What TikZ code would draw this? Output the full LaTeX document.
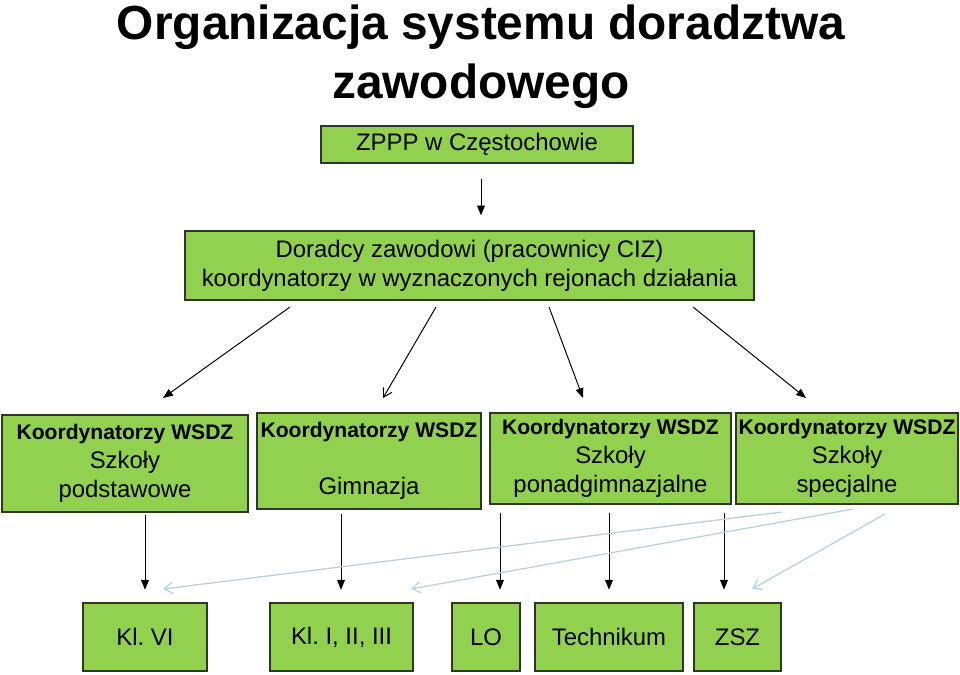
\documentclass[tikz,border=0pt]{standalone}
\usepackage{fontspec}
\setmainfont{Liberation Sans}
\usepackage{xcolor}
\usetikzlibrary{arrows.meta,shadows}
\definecolor{boxgreen}{RGB}{146,208,80}
\definecolor{boxline}{RGB}{45,55,35}
\definecolor{paleblue}{RGB}{180,210,222}
\frenchspacing
\tikzset{
	box/.style 2 args={
			draw=boxline, fill=boxgreen, line width=0.8pt, inner sep=0pt,
			minimum width=#1*0.025cm, minimum height=#2*0.025cm,
			align=center, font=\fontsize{17}{20.5}\selectfont,
			drop shadow={shadow xshift=1pt, shadow yshift=-1pt, opacity=0.4}
		}
}
\newcommand{\wsdz}{\textbf{\fontsize{15}{20.5}\selectfont Koordynatorzy WSDZ}}
\tikzstyle{arr} = [line width=0.7pt, -{Triangle[length=7pt,width=5.5pt]}]
\tikzstyle{arropen} = [line width=0.7pt, -{Straight Barb[length=6pt,width=7pt]}]
\tikzstyle{pale} = [draw=paleblue, line width=0.9pt, -{Straight Barb[length=6pt,width=8pt]}]

\begin{document}
\begin{tikzpicture}[x=0.025cm, y=-0.025cm]
\useasboundingbox (0,0) rectangle (960,675);

% Title
\node[align=center, font=\bfseries\fontsize{34}{42}\selectfont] (title) at (481,57)
    {Organizacja systemu doradztwa\\zawodowego};

% Nodes
\node[box={312}{37}] (zppp) at (477,144.5) {ZPPP w Częstochowie};
\node[box={569}{69}] (doradcy) at (469.5,265.5)
    {Doradcy zawodowi (pracownicy CIZ)\\koordynatorzy w wyznaczonych rejonach działania};

\node[box={246}{97}] (podst) at (125,463.5) {\wsdz\\Szkoły\\podstawowe};
\node[box={224}{96}] (gimn) at (369,461) {\wsdz\\\mbox{}\\Gimnazja};
\node[box={241}{91}] (ponad) at (610.5,458.5) {\wsdz\\Szkoły\\ponadgimnazjalne};
\node[box={222}{91}] (spec) at (847,458.5) {\wsdz\\Szkoły\\specjalne};

\node[box={124}{68}] (kl6) at (145,637) {Kl. VI};
\node[box={143}{68}] (kl123) at (341.5,637) {Kl. I, II, III};
\node[box={68}{68}] (lo) at (486,637) {LO};
\node[box={148}{68}] (tech) at (609,637) {Technikum};
\node[box={87}{68}] (zsz) at (737.5,637) {ZSZ};

% Arrow ends
\coordinate (d1) at (290,307);
\coordinate (d2) at (436,307);
\coordinate (d3) at (549,307);
\coordinate (d4) at (693,307);
\coordinate (p1) at (163,398);
\coordinate (p2) at (383,398);
\coordinate (p3) at (583,398);
\coordinate (p4) at (806,398);

\coordinate (s1) at (782,512);
\coordinate (s2) at (853,509);
\coordinate (s3) at (885,514);
\coordinate (t1) at (163,589);
\coordinate (t2) at (411,589);
\coordinate (t3) at (752,589);

% Arrows
\draw[arr, shorten <=10.7pt, shorten >=10.7pt] (zppp.south -| 481,0) -- (doradcy.north -| 481,0);

\draw[arr] (d1) -- (p1);
\draw[arropen] (d2) -- (p2);
\draw[arr] (d3) -- (p3);
\draw[arr] (d4) -- (p4);

\draw[arr, shorten <=1.5pt, shorten >=9pt] (podst.south -| kl6.north) -- (kl6.north);
\draw[arr, shorten <=3pt, shorten >=9pt] (gimn.south -| 341,0) -- (kl123.north -| 341,0);
\draw[arr, shorten <=6pt, shorten >=9pt] (ponad.south -| 500,0) -- (lo.north -| 500,0);
\draw[arr, shorten <=6pt, shorten >=9pt] (ponad.south -| tech.north) -- (tech.north);
\draw[arr, shorten <=6pt, shorten >=9pt] (ponad.south -| 724,0) -- (zsz.north -| 724,0);

\draw[pale] (s1) -- (t1);
\draw[pale] (s2) -- (t2);
\draw[pale] (s3) -- (t3);

\end{tikzpicture}
\end{document}
